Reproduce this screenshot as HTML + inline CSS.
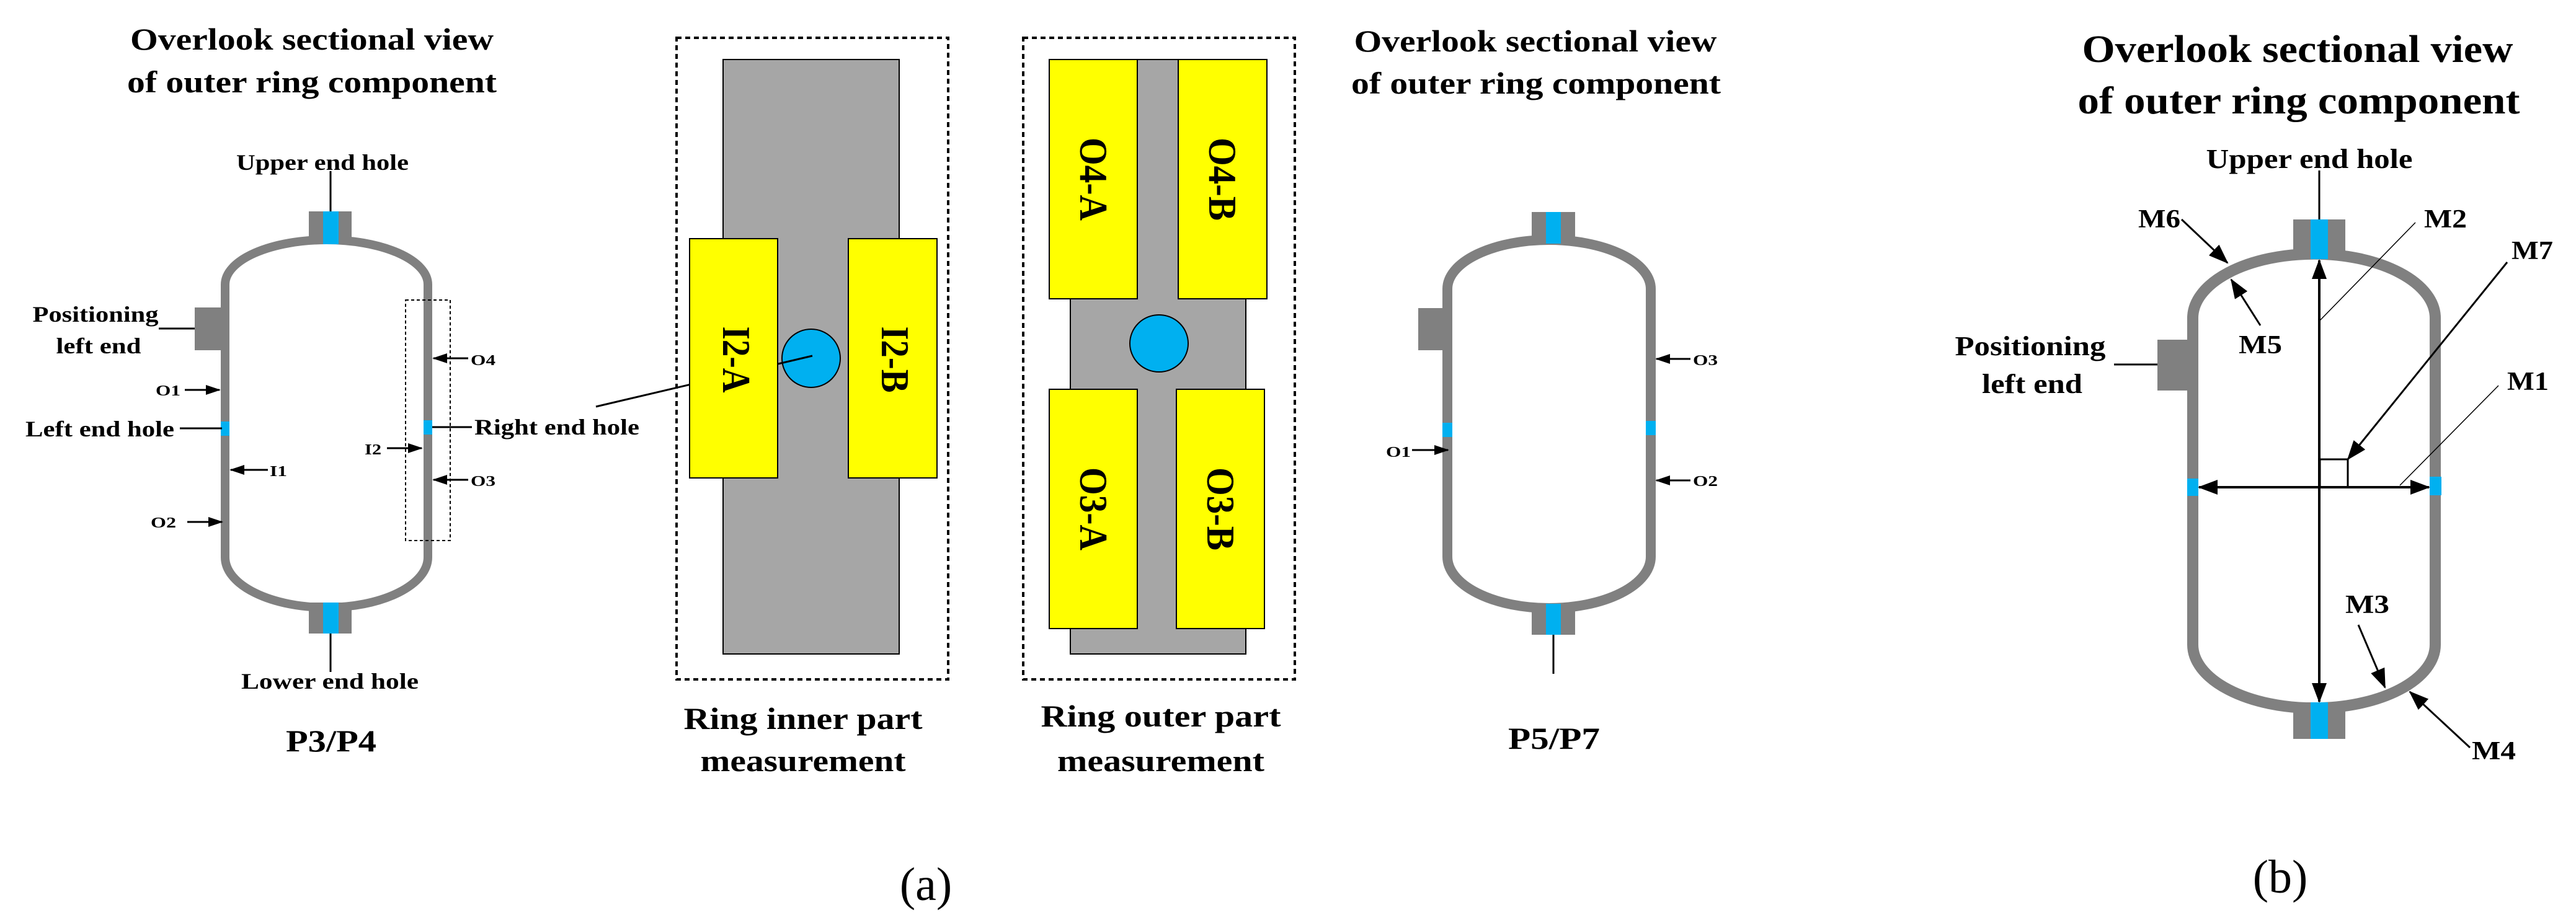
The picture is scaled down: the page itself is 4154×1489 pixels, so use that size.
<!DOCTYPE html>
<html><head><meta charset="utf-8"><style>
html,body{margin:0;padding:0;background:#fff;}
svg{display:block;}
text{font-family:"Liberation Serif",serif;font-weight:bold;fill:#000;}
</style></head><body>
<svg width="4154" height="1489" viewBox="0 0 4154 1489" xmlns="http://www.w3.org/2000/svg">
<defs>
<marker id="ah" markerUnits="userSpaceOnUse" markerWidth="24" markerHeight="16" refX="22" refY="8" orient="auto"><path d="M0,0 L24,8 L0,16 Z" fill="#000"/></marker>
<marker id="ahb" markerUnits="userSpaceOnUse" markerWidth="32" markerHeight="24" refX="30" refY="12" orient="auto"><path d="M0,0 L32,12 L0,24 Z" fill="#000"/></marker>
</defs>

<!-- ===== P3/P4 ===== -->
<text x="503" y="80" font-size="50" text-anchor="middle" textLength="586" lengthAdjust="spacingAndGlyphs">Overlook sectional view</text>
<text x="503" y="149" font-size="50" text-anchor="middle" textLength="596" lengthAdjust="spacingAndGlyphs">of outer ring component</text>
<text x="520" y="274" font-size="36" textLength="278" lengthAdjust="spacingAndGlyphs" text-anchor="middle">Upper end hole</text>
<line x1="533" y1="276" x2="533" y2="341" stroke="#000" stroke-width="3"/>
<path d="M363,459 A163.5,72 0 0 1 690,459 L690,899 A163.5,81 0 0 1 363,899 Z" fill="none" stroke="#808080" stroke-width="14"/>
<rect x="498" y="341" width="69" height="53" fill="#808080"/>
<rect x="521" y="341" width="25" height="53" fill="#00b0f0"/>
<rect x="498" y="972" width="69" height="50" fill="#808080"/>
<rect x="521" y="972" width="25" height="50" fill="#00b0f0"/>
<line x1="533" y1="1022" x2="533" y2="1084" stroke="#000" stroke-width="3"/>
<text x="532" y="1111" font-size="36" text-anchor="middle" textLength="286" lengthAdjust="spacingAndGlyphs">Lower end hole</text>
<rect x="314" y="496" width="44" height="69" fill="#808080"/>
<text x="154" y="519" font-size="36" text-anchor="middle" textLength="203" lengthAdjust="spacingAndGlyphs">Positioning</text>
<text x="159" y="570" font-size="36" text-anchor="middle" textLength="137" lengthAdjust="spacingAndGlyphs">left end</text>
<line x1="256" y1="530" x2="314" y2="530" stroke="#000" stroke-width="3"/>
<rect x="356" y="680" width="14" height="23" fill="#00b0f0"/>
<rect x="683" y="678" width="14" height="23" fill="#00b0f0"/>
<text x="41" y="704" font-size="36" textLength="240" lengthAdjust="spacingAndGlyphs">Left end hole</text>
<line x1="290" y1="691" x2="358" y2="691" stroke="#000" stroke-width="3"/>
<text x="765" y="701" font-size="36" textLength="266" lengthAdjust="spacingAndGlyphs">Right end hole</text>
<line x1="697" y1="689" x2="761" y2="689" stroke="#000" stroke-width="3"/>
<g font-size="24">
<text x="251" y="638" textLength="40" lengthAdjust="spacingAndGlyphs">O1</text>
<text x="243" y="851" textLength="41" lengthAdjust="spacingAndGlyphs">O2</text>
<text x="435" y="768" textLength="28" lengthAdjust="spacingAndGlyphs">I1</text>
<text x="588" y="733" textLength="27" lengthAdjust="spacingAndGlyphs">I2</text>
<text x="759" y="589" textLength="40" lengthAdjust="spacingAndGlyphs">O4</text>
<text x="759" y="784" textLength="40" lengthAdjust="spacingAndGlyphs">O3</text>
</g>
<g stroke="#000" stroke-width="3" marker-end="url(#ah)">
<line x1="298" y1="629" x2="354" y2="629"/>
<line x1="302" y1="842" x2="358" y2="842"/>
<line x1="432" y1="758" x2="372" y2="758"/>
<line x1="624" y1="723" x2="680" y2="723"/>
<line x1="755" y1="578" x2="699" y2="578"/>
<line x1="755" y1="774" x2="699" y2="774"/>
</g>
<rect x="654" y="484" width="72" height="388" fill="none" stroke="#000" stroke-width="2" stroke-dasharray="5 4"/>
<text x="534" y="1212" font-size="50" text-anchor="middle" textLength="146" lengthAdjust="spacingAndGlyphs">P3/P4</text>

<!-- ===== Ring inner ===== -->
<rect x="1091" y="61" width="438" height="1035" fill="none" stroke="#000" stroke-width="4" stroke-dasharray="8 6"/>
<rect x="1166" y="96" width="284" height="959" fill="#a6a6a6" stroke="#000" stroke-width="2"/>
<circle cx="1308" cy="578" r="47" fill="#00b0f0" stroke="#000" stroke-width="2"/>
<line x1="961" y1="656" x2="1310" y2="574" stroke="#000" stroke-width="3"/>
<rect x="1112" y="385" width="142" height="386" fill="#ffff00" stroke="#000" stroke-width="2"/>
<rect x="1368" y="385" width="143" height="386" fill="#ffff00" stroke="#000" stroke-width="2"/>
<text transform="translate(1166,580) rotate(90)" font-size="64" text-anchor="middle" textLength="107" lengthAdjust="spacingAndGlyphs">I2-A</text>
<text transform="translate(1422,580) rotate(90)" font-size="64" text-anchor="middle" textLength="107" lengthAdjust="spacingAndGlyphs">I2-B</text>
<text x="1295" y="1176" font-size="50" text-anchor="middle" textLength="385" lengthAdjust="spacingAndGlyphs">Ring inner part</text>
<text x="1295" y="1244" font-size="50" text-anchor="middle" textLength="331" lengthAdjust="spacingAndGlyphs">measurement</text>

<!-- ===== Ring outer ===== -->
<rect x="1650" y="61" width="438" height="1035" fill="none" stroke="#000" stroke-width="4" stroke-dasharray="8 6"/>
<rect x="1726" y="96" width="283" height="959" fill="#a6a6a6" stroke="#000" stroke-width="2"/>
<rect x="1692" y="96" width="142" height="386" fill="#ffff00" stroke="#000" stroke-width="2"/>
<rect x="1900" y="96" width="143" height="386" fill="#ffff00" stroke="#000" stroke-width="2"/>
<rect x="1692" y="628" width="142" height="386" fill="#ffff00" stroke="#000" stroke-width="2"/>
<rect x="1897" y="628" width="142" height="386" fill="#ffff00" stroke="#000" stroke-width="2"/>
<ellipse cx="1869" cy="554" rx="47" ry="46" fill="#00b0f0" stroke="#000" stroke-width="2"/>
<g font-size="64" text-anchor="middle">
<text transform="translate(1742,289) rotate(90)" textLength="134" lengthAdjust="spacingAndGlyphs">O4-A</text>
<text transform="translate(1950,289) rotate(90)" textLength="134" lengthAdjust="spacingAndGlyphs">O4-B</text>
<text transform="translate(1742,821) rotate(90)" textLength="134" lengthAdjust="spacingAndGlyphs">O3-A</text>
<text transform="translate(1947,821) rotate(90)" textLength="134" lengthAdjust="spacingAndGlyphs">O3-B</text>
</g>
<text x="1872" y="1172" font-size="50" text-anchor="middle" textLength="387" lengthAdjust="spacingAndGlyphs">Ring outer part</text>
<text x="1872" y="1244" font-size="50" text-anchor="middle" textLength="334" lengthAdjust="spacingAndGlyphs">measurement</text>

<text x="1493" y="1452" font-size="76" text-anchor="middle" style="font-weight:normal">(a)</text>

<!-- ===== P5/P7 ===== -->
<text x="2476" y="83" font-size="50" text-anchor="middle" textLength="585" lengthAdjust="spacingAndGlyphs">Overlook sectional view</text>
<text x="2477" y="151" font-size="50" text-anchor="middle" textLength="596" lengthAdjust="spacingAndGlyphs">of outer ring component</text>
<path d="M2334,466 A164,79 0 0 1 2662,466 L2662,898 A164,83 0 0 1 2334,898 Z" fill="none" stroke="#808080" stroke-width="16"/>
<rect x="2470" y="342" width="70" height="51" fill="#808080"/>
<rect x="2493" y="342" width="24" height="51" fill="#00b0f0"/>
<rect x="2470" y="974" width="70" height="50" fill="#808080"/>
<rect x="2493" y="974" width="24" height="50" fill="#00b0f0"/>
<line x1="2505" y1="1024" x2="2505" y2="1087" stroke="#000" stroke-width="3"/>
<rect x="2287" y="497" width="40" height="68" fill="#808080"/>
<rect x="2326" y="682" width="16" height="23" fill="#00b0f0"/>
<rect x="2654" y="679" width="16" height="23" fill="#00b0f0"/>
<g font-size="24">
<text x="2235" y="737" textLength="40" lengthAdjust="spacingAndGlyphs">O1</text>
<text x="2730" y="589" textLength="40" lengthAdjust="spacingAndGlyphs">O3</text>
<text x="2730" y="784" textLength="40" lengthAdjust="spacingAndGlyphs">O2</text>
</g>
<g stroke="#000" stroke-width="3" marker-end="url(#ah)">
<line x1="2277" y1="726" x2="2335" y2="726"/>
<line x1="2726" y1="579" x2="2671" y2="579"/>
<line x1="2726" y1="775" x2="2671" y2="775"/>
</g>
<text x="2506" y="1208" font-size="50" text-anchor="middle" textLength="148" lengthAdjust="spacingAndGlyphs">P5/P7</text>

<!-- ===== (b) ===== -->
<text x="3705" y="100" font-size="62" text-anchor="middle" textLength="695" lengthAdjust="spacingAndGlyphs">Overlook sectional view</text>
<text x="3707" y="183" font-size="62" text-anchor="middle" textLength="713" lengthAdjust="spacingAndGlyphs">of outer ring component</text>
<text x="3724" y="271" font-size="44" text-anchor="middle" textLength="333" lengthAdjust="spacingAndGlyphs">Upper end hole</text>
<line x1="3740" y1="275" x2="3740" y2="354" stroke="#000" stroke-width="3"/>
<path d="M3536,513 A195,103 0 0 1 3927,513 L3927,1040 A195,102 0 0 1 3536,1040 Z" fill="none" stroke="#808080" stroke-width="18"/>
<rect x="3698" y="354" width="84" height="64" fill="#808080"/>
<rect x="3726" y="354" width="28" height="64" fill="#00b0f0"/>
<rect x="3698" y="1133" width="84" height="59" fill="#808080"/>
<rect x="3726" y="1133" width="28" height="59" fill="#00b0f0"/>
<rect x="3479" y="548" width="49" height="82" fill="#808080"/>
<rect x="3527" y="772" width="18" height="28" fill="#00b0f0"/>
<rect x="3918" y="769" width="19" height="30" fill="#00b0f0"/>
<text x="3274" y="573" font-size="44" text-anchor="middle" textLength="243" lengthAdjust="spacingAndGlyphs">Positioning</text>
<text x="3277" y="634" font-size="44" text-anchor="middle" textLength="162" lengthAdjust="spacingAndGlyphs">left end</text>
<line x1="3409" y1="588" x2="3479" y2="588" stroke="#000" stroke-width="3"/>
<g stroke="#000" stroke-width="4">
<line x1="3740" y1="786" x2="3546" y2="786" marker-end="url(#ahb)"/>
<line x1="3740" y1="786" x2="3917" y2="786" marker-end="url(#ahb)"/>
<line x1="3740" y1="786" x2="3740" y2="420" marker-end="url(#ahb)"/>
<line x1="3740" y1="786" x2="3740" y2="1132" marker-end="url(#ahb)"/>
</g>
<rect x="3741" y="741" width="45" height="45" fill="none" stroke="#000" stroke-width="3"/>
<g stroke="#000" stroke-width="3" marker-end="url(#ahb)">
<line x1="4043" y1="423" x2="3786" y2="741"/>
<line x1="3518" y1="354" x2="3592" y2="424"/>
<line x1="3645" y1="525" x2="3598" y2="451"/>
<line x1="3803" y1="1008" x2="3846" y2="1109"/>
<line x1="3983" y1="1206" x2="3886" y2="1116"/>
</g>
<line x1="3740" y1="518" x2="3895" y2="359" stroke="#000" stroke-width="1.5"/>
<line x1="3870" y1="783" x2="4029" y2="622" stroke="#000" stroke-width="1.5"/>
<g font-size="42">
<text x="3909" y="367" textLength="69" lengthAdjust="spacingAndGlyphs">M2</text>
<text x="4050" y="418" textLength="67" lengthAdjust="spacingAndGlyphs">M7</text>
<text x="4043" y="629" textLength="67" lengthAdjust="spacingAndGlyphs">M1</text>
<text x="3448" y="367" textLength="68" lengthAdjust="spacingAndGlyphs">M6</text>
<text x="3610" y="570" textLength="70" lengthAdjust="spacingAndGlyphs">M5</text>
<text x="3782" y="989" textLength="71" lengthAdjust="spacingAndGlyphs">M3</text>
<text x="3986" y="1225" textLength="71" lengthAdjust="spacingAndGlyphs">M4</text>
</g>
<text x="3677" y="1440" font-size="76" text-anchor="middle" style="font-weight:normal">(b)</text>
</svg>
</body></html>
